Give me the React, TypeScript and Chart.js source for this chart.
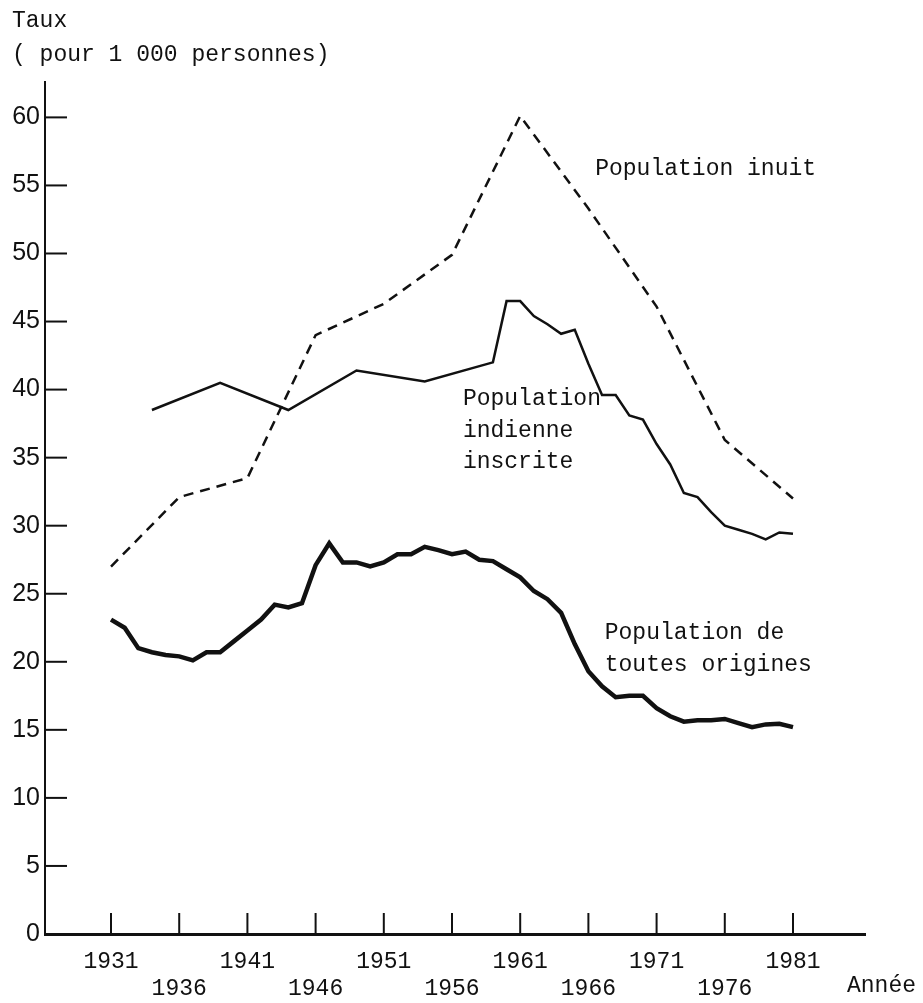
import React, { useEffect, useRef } from "react";
import { Chart, registerables } from "chart.js";

Chart.register(...registerables);

// ---- Data ----
const allYears: number[] = [
  1931, 1932, 1933, 1934, 1935, 1936, 1937, 1938, 1939, 1940,
  1941, 1942, 1943, 1944, 1945, 1946, 1947, 1948, 1949, 1950,
  1951, 1952, 1953, 1954, 1955, 1956, 1957, 1958, 1959, 1960,
  1961, 1962, 1963, 1964, 1965, 1966, 1967, 1968, 1969, 1970,
  1971, 1972, 1973, 1974, 1975, 1976, 1977, 1978, 1979, 1980, 1981,
];
const allOrigins: number[] = [
  23.1, 22.5, 21.0, 20.7, 20.5, 20.4, 20.1, 20.7, 20.7, 21.5,
  22.3, 23.1, 24.2, 24.0, 24.3, 27.1, 28.7, 27.3, 27.3, 27.0,
  27.3, 27.9, 27.9, 28.45, 28.2, 27.9, 28.1, 27.5, 27.4, 26.8,
  26.2, 25.2, 24.6, 23.6, 21.3, 19.3, 18.2, 17.4, 17.5, 17.5,
  16.6, 16.0, 15.6, 15.7, 15.7, 15.8, 15.5, 15.2, 15.4, 15.45, 15.2,
];

const indianYears: number[] = [
  1934, 1939, 1944, 1949, 1954, 1959, 1960, 1961, 1962, 1963,
  1964, 1965, 1966, 1967, 1968, 1969, 1970, 1971, 1972, 1973,
  1974, 1975, 1976, 1977, 1978, 1979, 1980, 1981,
];
const indianValues: number[] = [
  38.5, 40.5, 38.5, 41.4, 40.6, 42.0, 46.5, 46.5, 45.4, 44.8,
  44.1, 44.4, 41.9, 39.6, 39.6, 38.1, 37.8, 36.0, 34.5, 32.4,
  32.1, 31.0, 30.0, 29.7, 29.4, 29.0, 29.5, 29.4,
];

const inuitYears: number[] = [1931, 1936, 1941, 1946, 1951, 1956, 1961, 1966, 1971, 1976, 1981];
const inuitValues: number[] = [27.0, 32.1, 33.5, 44.0, 46.3, 49.9, 60.1, 53.3, 46.1, 36.3, 32.0];

const xTickYears: number[] = [1931, 1936, 1941, 1946, 1951, 1956, 1961, 1966, 1971, 1976, 1981];
const yTickValues: number[] = [0, 5, 10, 15, 20, 25, 30, 35, 40, 45, 50, 55, 60];

const MONO = '"Liberation Mono", "DejaVu Sans Mono", monospace';
const SANS = '"Liberation Sans", Arial, sans-serif';

const toPoints = (xs: number[], ys: number[]) => xs.map((x, i) => ({ x, y: ys[i] }));

const decorPlugin = {
  id: "decor",
  afterDraw(chart: any) {
    const ctx = chart.ctx as CanvasRenderingContext2D;
    const xs = chart.scales.x;
    const ys = chart.scales.y;
    const area = chart.chartArea;
    ctx.save();
    ctx.strokeStyle = "#111";
    ctx.lineWidth = 2;
    // y tick marks (inside, to the right)
    ys.ticks.forEach((t: any) => {
      if (t.value === 0) return;
      const py = ys.getPixelForValue(t.value);
      ctx.beginPath();
      ctx.moveTo(area.left, py);
      ctx.lineTo(area.left + 22, py);
      ctx.stroke();
    });
    // x tick marks (upward)
    xs.ticks.forEach((t: any) => {
      const px = xs.getPixelForValue(t.value);
      ctx.beginPath();
      ctx.moveTo(px, area.bottom);
      ctx.lineTo(px, area.bottom - 21);
      ctx.stroke();
    });

    ctx.fillStyle = "#111";
    ctx.font = `23px ${MONO}`;
    ctx.textBaseline = "middle";
    ctx.textAlign = "left";
    // Axis titles
    ctx.fillText("Taux", 12, 21);
    ctx.fillText("( pour 1 000 personnes)", 12, 55);
    ctx.fillText("Année", 847, 986);

    // Series labels placed in data coordinates
    const lab = (text: string, xv: number, yv: number) => {
      ctx.fillText(text, xs.getPixelForValue(xv), ys.getPixelForValue(yv));
    };
    lab("Population inuit", 1966.5, 56.2);
    lab("Population", 1956.8, 39.3);
    lab("indienne", 1956.8, 37.0);
    lab("inscrite", 1956.8, 34.7);
    lab("Population de", 1967.2, 22.1);
    lab("toutes origines", 1967.2, 19.8);
    ctx.restore();
  },
};

export default function App() {
  const canvasRef = useRef<HTMLCanvasElement | null>(null);

  useEffect(() => {
    if (!canvasRef.current) return;
    const chart = new Chart(canvasRef.current, {
      type: "line",
      data: {
        datasets: [
          {
            label: "Population inuit",
            data: toPoints(inuitYears, inuitValues),
            borderColor: "#111",
            borderWidth: 2.5,
            borderDash: [10, 7],
            pointRadius: 0,
            fill: false,
            tension: 0,
          },
          {
            label: "Population indienne inscrite",
            data: toPoints(indianYears, indianValues),
            borderColor: "#111",
            borderWidth: 2.5,
            pointRadius: 0,
            fill: false,
            tension: 0,
          },
          {
            label: "Population de toutes origines",
            data: toPoints(allYears, allOrigins),
            borderColor: "#111",
            borderWidth: 4.5,
            pointRadius: 0,
            fill: false,
            tension: 0,
          },
        ],
      },
      options: {
        animation: false,
        responsive: false,
        maintainAspectRatio: false,
        layout: { padding: { top: 82, right: 58, left: 0, bottom: 0 } },
        plugins: {
          legend: { display: false },
          tooltip: { enabled: false },
          title: { display: false },
        },
        scales: {
          x: {
            type: "linear",
            min: 1926.16,
            max: 1986.28,
            grid: { display: false },
            border: { display: true, color: "#111", width: 3 },
            afterBuildTicks: (scale: any) => {
              scale.ticks = xTickYears.map((v) => ({ value: v }));
            },
            afterFit: (scale: any) => {
              scale.height = 69;
            },
            ticks: {
              autoSkip: false,
              maxRotation: 0,
              minRotation: 0,
              padding: 6,
              color: "#111",
              font: { family: MONO, size: 23 },
              callback: (value: any, index: number) =>
                index % 2 === 0 ? String(value) : ["", String(value)],
            },
          },
          y: {
            type: "linear",
            min: 0,
            max: 62.6,
            grid: { display: false, drawTicks: false },
            border: { display: true, color: "#111", width: 2 },
            afterBuildTicks: (scale: any) => {
              scale.ticks = yTickValues.map((v) => ({ value: v }));
            },
            afterFit: (scale: any) => {
              scale.width = 45;
            },
            ticks: {
              padding: 5,
              color: "#111",
              font: { family: SANS, size: 25 },
              callback: (value: any) => String(value),
            },
          },
        },
      },
      plugins: [decorPlugin],
    });
    return () => chart.destroy();
  }, []);

  return (
    <div style={{ position: "fixed", left: 0, top: 0, width: 923, height: 1003, background: "#fff" }}>
      <canvas ref={canvasRef} width={923} height={1003} style={{ width: 923, height: 1003, display: "block" }} />
    </div>
  );
}
